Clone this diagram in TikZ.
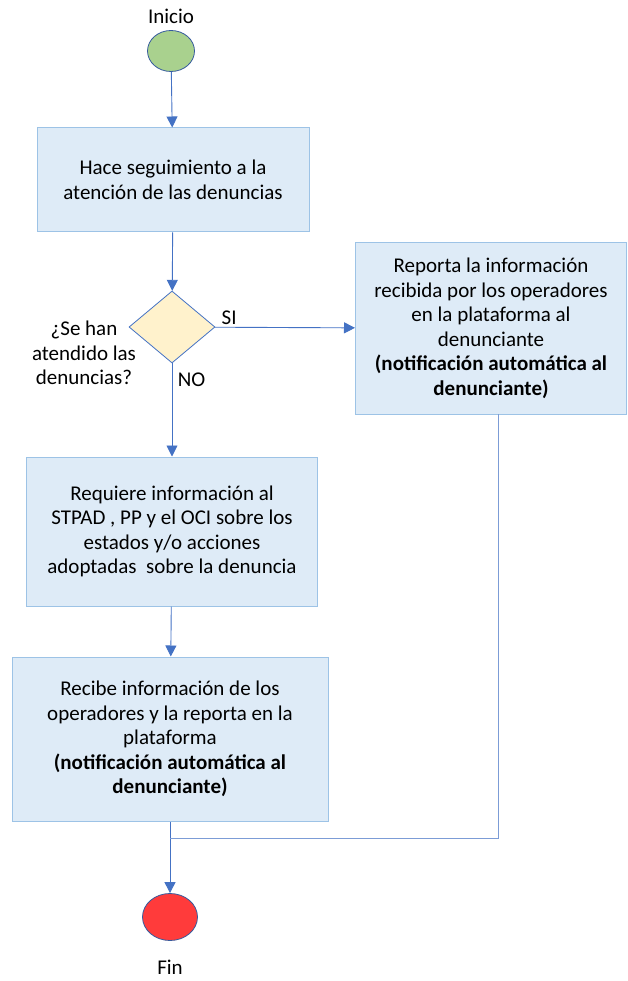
\documentclass[tikz,border=0pt]{standalone}
\usepackage{fontspec}
\setmainfont{Carlito}
\usetikzlibrary{arrows.meta, positioning, shapes.geometric}
\definecolor{boxfill}{HTML}{DEEBF7}
\definecolor{boxline}{HTML}{9DC3E6}
\definecolor{flowblue}{HTML}{4472C4}
\definecolor{diamfill}{HTML}{FFF2CC}
\definecolor{startgreen}{HTML}{A9D18E}
\definecolor{endred}{HTML}{FF3B3B}
\tikzset{
    flecha/.style={-{Triangle[width=11pt,length=11pt]}, draw=flowblue, line width=0.9pt},
    linea/.style={draw=flowblue!70, line width=0.9pt},
    proceso/.style={draw=boxline, fill=boxfill, line width=1pt, align=center, inner sep=0pt},
    decision/.style={diamond, draw=flowblue, fill=diamfill, line width=0.8pt, inner sep=0pt},
    terminal/.style={ellipse, draw=flowblue!80!black, line width=0.8pt, inner sep=0pt}
}

\begin{document}
\begin{tikzpicture}[x=1pt, y=-1pt, font=\fontsize{21}{24.5}\selectfont]
    \useasboundingbox (0,0) rectangle (627,981);
    % Start
    \node (inicio) at (171,16) {Inicio};
    \node[terminal, fill=startgreen, minimum width=47pt, minimum height=41pt] (start) at (171,51) {};
    % Processes
    \node[proceso, minimum width=272pt, minimum height=104pt] (seguimiento) at (173,180)
        {Hace seguimiento a la\\atención de las denuncias};
    \node[decision, minimum width=86pt, minimum height=72pt] (pregunta) at (172,327) {};
    \node[align=center] (etiqueta) at (84,353) {¿Se han\\atendido las\\denuncias?};
    \node[proceso, minimum width=271pt, minimum height=171pt] (reporta) at (491,328.5)
        {Reporta la información\\recibida por los operadores\\en la plataforma al\\denunciante\\
         \textbf{(notificación automática al}\\\textbf{denunciante)}};
    \node[proceso, minimum width=291pt, minimum height=149pt] (requiere) at (172,531.5)
        {Requiere información al\\STPAD , PP y el OCI sobre los\\estados y/o acciones\\adoptadas\ \ sobre la denuncia};
    \node[proceso, minimum width=316pt, minimum height=164pt] (recibe) at (170,739)
        {Recibe información de los\\operadores y la reporta en la\\plataforma\\
         \textbf{(notificación automática al}\\\textbf{denunciante)}};
    % End
    \node[terminal, fill=endred, minimum width=55pt, minimum height=47pt] (fin) at (170,917) {};
    \node (fintexto) at (170,967) {Fin};
    % Connectors
    \coordinate (salida) at (498,414);
    \coordinate (junta) at (170,838);
    \draw[flecha] (start) -- (seguimiento);
    \draw[flecha] (seguimiento) -- (pregunta);
    \draw[flecha] (pregunta) -- node[pos=0.02, above right=-1pt and 0pt] {SI} (reporta);
    \draw[flecha] (pregunta) -- node[pos=0.18, right=2pt] {NO} (requiere);
    \draw[flecha] (requiere) -- (recibe);
    \draw[flecha] (recibe) -- (fin);
    \draw[linea] (salida) |- (junta);
\end{tikzpicture}
\end{document}
